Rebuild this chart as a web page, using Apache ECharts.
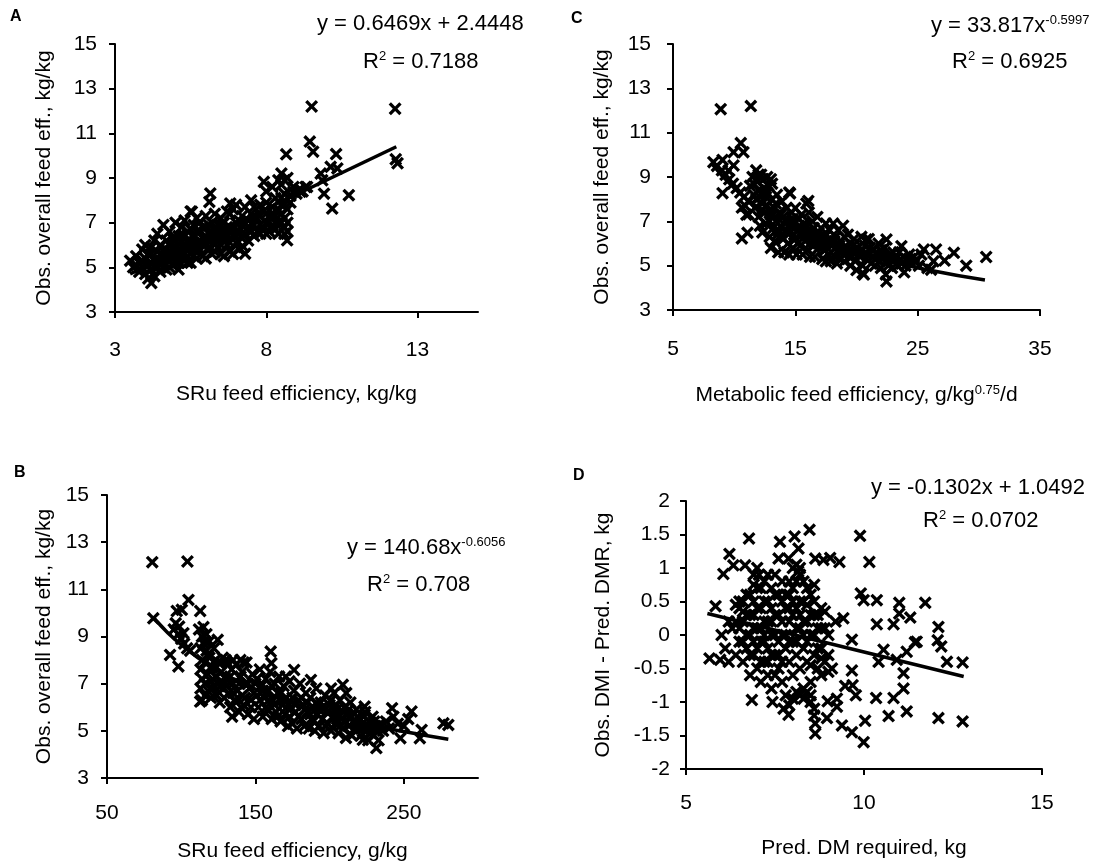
<!DOCTYPE html>
<html>
<head>
<meta charset="utf-8">
<script src="https://cdn.jsdelivr.net/npm/echarts@6/dist/echarts.min.js"></script>
<style>html,body{margin:0;padding:0;background:#fff}#c{width:1100px;height:867px}</style>
</head>
<body>
<div id="c"></div>
<script>
// ---------- DATA ----------
// Panel A: SRu feed efficiency (kg/kg) vs observed overall feed efficiency (kg/kg)
const dataA = [
 [3.5,5.3],[3.6,5.0],[3.7,5.5],[3.8,4.8],[3.8,5.2],[3.9,5.8],[3.9,5.0],[4.0,6.0],[4.0,5.4],[4.0,4.7],
 [4.1,5.1],[4.1,5.6],[4.2,4.3],[4.2,4.9],[4.2,5.9],[4.3,5.3],[4.3,6.2],[4.3,4.6],[4.4,5.0],[4.4,5.7],[4.4,6.5],
 [4.5,5.3],[4.5,4.8],[4.5,6.0],[4.6,6.9],[4.6,5.5],[4.6,5.0],[4.7,6.2],[4.7,5.8],[4.7,4.9],[4.8,5.3],[4.8,6.6],[4.8,6.0],
 [4.9,5.1],[4.9,5.6],[4.9,6.3],[5.0,7.0],[5.0,5.9],[5.0,5.2],[5.1,6.4],[5.1,5.5],[5.1,4.9],[5.2,6.1],[5.2,5.7],[5.2,6.8],
 [5.3,5.3],[5.3,6.4],[5.3,7.1],[5.4,5.9],[5.4,5.5],[5.4,6.6],[5.5,6.2],[5.5,5.2],[5.5,7.5],[5.6,5.8],[5.6,6.9],[5.6,6.4],
 [5.7,5.4],[5.7,6.1],[5.7,7.2],[5.8,6.6],[5.8,5.8],[5.8,7.0],[5.9,6.3],[5.9,5.5],[6.0,6.8],[6.0,6.0],[6.0,7.3],[6.0,5.4],
 [6.1,6.5],[6.1,5.9],[6.2,7.0],[6.2,6.2],[6.2,5.6],[6.3,6.7],[6.3,7.4],[6.3,5.7],[6.4,6.4],[6.4,6.9],[6.4,5.9],
 [6.5,6.6],[6.5,7.2],[6.5,5.6],[6.6,6.2],[6.6,5.5],[6.6,7.0],[6.7,6.5],[6.7,7.5],[6.8,5.7],[6.8,6.8],[6.8,6.1],[6.8,7.4],
 [6.9,7.6],[6.9,6.4],[6.9,5.6],[7.0,7.0],[7.0,6.1],[7.0,7.8],[7.1,6.6],[7.1,5.8],[7.2,7.3],[7.2,6.3],[7.2,6.9],
 [7.3,6.5],[7.3,7.7],[7.4,7.1],[7.4,6.2],[7.5,6.6],[7.5,7.4],[7.5,8.0],[7.6,6.9],[7.6,6.4],[7.6,7.7],
 [7.7,7.2],[7.7,6.6],[7.8,7.8],[7.8,6.9],[7.8,6.5],[7.9,7.5],[7.9,6.7],[8.0,7.0],[8.0,6.5],[8.0,7.9],[8.0,8.4],
 [8.1,6.6],[8.1,7.3],[8.2,7.7],[8.2,8.6],[8.2,6.9],[8.3,8.1],[8.3,7.3],[8.3,6.7],[8.4,8.9],[8.4,7.6],[8.4,7.0],[8.4,6.5],
 [8.5,9.2],[8.5,8.7],[8.5,7.4],[8.5,7.0],[8.6,8.3],[8.6,7.8],[8.6,7.2],[8.6,6.8],[8.6,6.5],[8.7,9.0],[8.7,7.6],[8.7,7.0],[8.7,6.6],
 [8.8,8.2],[8.9,8.4],[9.0,8.3],[9.1,8.5],[9.2,8.4],[9.3,8.6],[8.8,7.9],
 [9.5,12.2],[12.26,12.1],[9.44,10.63],[9.55,10.18],[8.66,10.06],[10.31,10.07],[12.28,9.84],[12.34,9.66],
 [10.13,9.5],[10.35,9.43],[9.8,9.2],[9.85,8.9],[9.91,8.3],[10.73,8.23],[10.18,7.63],[9.13,8.38],[9.35,8.6],
 [8.9,8.6],[7.92,8.83],[6.15,8.31],[6.12,7.93],[5.54,7.49],[6.81,7.86],[7.25,5.91],[7.3,5.61],[8.69,6.21],
 [3.7,5.1],[3.9,5.3],[4.0,5.1],[4.1,4.5],[4.2,5.2],[4.2,5.6],[4.3,5.0],[4.4,5.3],[4.5,5.6],[4.5,5.1],[4.6,5.2],[4.6,5.8],
 [4.7,5.4],[4.8,5.7],[4.8,5.0],[4.9,5.9],[5.0,5.5],[5.0,6.2],[5.1,5.2],[5.1,5.8],[5.2,5.4],[5.2,6.4],[5.3,5.6],[5.3,6.0],
 [5.4,6.2],[5.4,5.2],[5.5,5.6],[5.5,6.7],[5.6,6.1],[5.6,5.5],[5.7,5.8],[5.7,6.6],[5.8,6.2],[5.9,6.0],[5.9,6.8],[6.0,6.4],
 [6.1,6.2],[6.1,6.9],[6.2,6.6],[6.3,6.0],[6.4,6.2],[6.5,6.0],[6.5,6.9],[6.6,6.5],[6.7,6.0],[6.7,6.8],[6.9,6.7],[7.0,6.4],
 [7.1,7.1],[7.3,7.0],[7.4,6.8],[7.6,7.2],[7.8,7.3],[8.0,7.4],[8.2,7.3],[8.3,7.0],[8.5,7.8],[8.5,8.1],[8.6,8.9]
];
// Panel B: SRu feed efficiency (g/kg) vs observed overall feed efficiency (kg/kg)
const dataB = [
 [80.5,12.15],[104.2,12.18],[81.2,9.77],[97.0,10.08],[104.9,10.55],[100.4,10.13],[112.8,10.08],[92.5,8.22],[98.1,7.73],
 [96.3,9.56],[98.6,9.42],[101.5,9.14],[124.6,8.86],[160.3,8.36],[160.8,7.87],[176.1,7.58],[170.5,7.3],[187.4,7.16],
 [139.9,8.0],[134.3,5.6],[112.8,6.24],[280,5.25],[276.7,5.32],[262,5.04],[255.2,5.82],[242.1,5.96],[247.7,4.69],
 [260.8,4.69],[231.5,4.27],[222.4,4.62],[223.6,6.03],[208.9,6.95],[211.2,6.6],[201,6.8],
 [95,9.3],[98,9.1],[100,8.9],[102,8.7],[104,8.5],[106,8.4],
 [112,9.3],[113,8.5],[113,7.6],[113,6.8],[114,9.0],[114,8.0],[114,7.2],[114,6.3],[115,9.4],[115,8.7],[116,7.9],[116,7.0],
 [116,6.5],[117,8.4],[117,9.1],[118,7.4],[118,6.7],[119,8.8],[119,8.1],[120,7.1],[120,6.4],[121,7.7],[122,8.5],[122,6.9],
 [123,7.3],[124,6.5],[125,7.9],[125,7.0],[126,6.2],[127,7.5],[128,8.1],[128,6.8],[129,6.4],[130,7.2],[131,7.9],[132,6.6],
 [133,6.0],[134,7.6],[135,7.0],[136,6.3],[137,7.8],[138,6.7],[139,5.8],[140,7.3],[141,6.5],[142,6.1],[143,7.0],[144,7.9],
 [145,5.7],[146,6.8],[147,6.3],[148,7.4],[149,5.5],[150,7.0],[151,6.5],[152,6.0],[153,7.6],[154,6.9],[155,5.6],[156,6.4],
 [157,7.2],[158,5.9],[159,6.7],[160,7.5],[161,5.5],[162,6.3],[163,7.0],[164,5.8],[165,6.6],[166,7.3],[167,5.4],[168,6.1],
 [169,6.9],[170,5.7],[171,6.4],[172,5.2],[173,7.1],[174,6.0],[175,5.3],[176,6.7],[177,5.8],[178,5.1],[179,6.3],[180,7.0],
 [181,5.5],[182,6.1],[183,5.2],[184,6.6],[185,5.8],[186,5.1],[187,6.4],[188,5.5],[189,6.0],[190,5.0],[191,6.8],[192,5.7],
 [193,5.2],[194,6.2],[195,5.5],[196,4.9],[197,6.5],[198,5.8],[199,5.3],[200,6.1],[201,5.0],[202,5.6],[203,6.6],[204,5.3],
 [205,5.9],[206,4.9],[207,6.3],[208,5.5],[209,5.1],[210,6.0],[211,4.7],[212,5.7],[213,5.2],[214,6.2],[215,4.8],[216,5.4],
 [218,5.9],[219,5.1],[220,5.5],[221,4.8],[222,5.3],[224,5.8],[225,5.0],[226,4.6],[227,5.4],[228,5.1],[229,5.6],[230,4.8],
 [231,5.2],[233,4.6],[234,5.3],[236,5.0],[238,5.4],[240,5.1],[243,5.6],[246,5.3],[250,5.2],[253,5.5],
 [130,8.0],[135,8.0],[142,7.9],
 [116,8.8],[118,8.2],[120,7.7],[121,6.8],[123,8.0],[124,7.3],[126,6.9],[127,7.9],[129,7.0],[131,6.9],[133,7.3],[135,6.6],
 [137,6.2],[139,7.0],[141,7.5],[143,6.4],[145,7.0],[147,6.0],[149,6.6],[151,7.2],[153,6.3],[155,6.7],[157,6.0],[159,6.3],
 [161,6.9],[163,6.1],[165,5.6],[167,6.6],[169,6.3],[171,6.0],[173,5.6],[175,6.4],[177,6.1],[179,5.6],[181,6.4],[183,5.9],
 [185,6.2],[187,5.7],[189,5.4],[191,6.2],[193,5.9],[195,6.0],[197,5.2],[199,5.8],[201,6.3],[203,5.9],[205,5.5],[207,5.2],
 [209,5.8],[211,5.4],[213,5.9],[215,5.6],[217,5.1],[219,5.6],[221,5.1],[223,5.6],[226,5.2],[228,4.9],[230,5.4],[232,5.0]
];
// Panel C: metabolic feed efficiency vs observed overall feed efficiency
const dataC = [
 [8.9,12.06],[11.36,12.2],[10.54,10.53],[10.76,10.12],[9.95,10.12],[9.05,9.77],[8.3,9.67],[9.95,9.52],[9.54,9.29],
 [9.05,8.27],[10.63,6.23],[11.09,6.48],[10.63,7.62],[11.17,7.32],[30.6,5.39],[28.97,5.0],[27.96,5.58],[27.2,5.23],
 [26.5,5.73],[25.5,5.73],[26.1,4.82],[22.45,4.29],[22.45,6.18],[23.67,5.88],[14.57,8.26],[16.06,7.92],[20.8,6.18],[20.5,4.67],
 [8.6,9.5],[9.0,9.3],[9.3,9.1],[9.6,8.9],[9.9,8.7],[10.2,8.5],[10.5,8.3],[10.8,8.1],[10.9,7.7],[11.0,7.3],[11.2,7.9],[11.3,8.6],
 [11.5,9.0],[11.6,8.2],[11.7,7.6],[11.8,9.3],[11.9,8.8],[12.0,7.2],[12.0,8.4],[12.1,6.8],[12.2,9.1],[12.3,7.8],[12.3,6.5],
 [12.4,8.9],[12.5,7.4],[12.5,8.3],[12.6,6.9],[12.7,9.0],[12.7,7.7],[12.8,8.6],[12.9,6.3],[13.0,7.3],[13.0,5.8],[13.1,8.0],
 [13.2,6.7],[13.3,7.6],[13.3,6.1],[13.4,7.0],[13.5,8.2],[13.5,6.4],[13.6,5.6],[13.7,7.4],[13.8,6.8],[13.9,7.9],[14.0,6.2],
 [14.0,7.2],[14.1,5.6],[14.2,6.6],[14.3,7.6],[14.4,6.0],[14.4,7.0],[14.5,8.3],[14.5,5.5],[14.6,6.5],[14.7,7.4],[14.8,5.8],
 [14.9,6.9],[15.0,6.2],[15.0,7.6],[15.1,5.5],[15.2,6.6],[15.3,7.1],[15.4,5.9],[15.5,6.4],[15.5,7.3],[15.6,5.5],[15.7,6.9],
 [15.8,6.1],[15.9,7.8],[16.0,5.7],[16.0,6.6],[16.1,7.4],[16.2,5.4],[16.3,6.3],[16.4,7.0],[16.5,5.9],[16.5,6.7],[16.6,5.4],
 [16.7,6.4],[16.8,7.2],[16.9,5.8],[17.0,6.1],[17.1,6.7],[17.2,5.3],[17.3,6.4],[17.4,5.7],[17.5,6.9],[17.5,5.2],[17.6,6.1],
 [17.7,5.5],[17.8,6.6],[17.9,5.2],[18.0,5.9],[18.1,6.9],[18.2,5.4],[18.3,6.3],[18.4,5.1],[18.5,5.7],[18.5,6.6],[18.6,5.3],
 [18.7,6.1],[18.8,5.6],[18.9,6.8],[19.0,5.2],[19.1,5.9],[19.3,6.4],[19.4,5.4],[19.5,5.0],[19.5,6.0],[19.7,5.6],[19.8,6.2],
 [19.9,5.2],[20.0,4.8],[20.1,5.8],[20.3,5.4],[20.4,6.3],[20.5,5.0],[20.6,4.6],[20.7,5.9],[20.9,5.5],[21.0,6.2],[21.2,5.1],
 [21.4,5.7],[21.6,5.3],[21.8,6.0],[22.0,4.9],[22.1,5.5],[22.3,5.8],[22.4,4.6],[22.5,5.2],[22.7,5.5],[22.9,4.9],[23.2,5.3],
 [23.5,5.6],[23.7,5.1],[23.9,4.7],[24.1,5.3],[24.3,5.5],[24.5,5.1],[24.7,5.4],[24.9,5.2],[25.1,5.0],[25.3,5.5],[25.8,4.9],[26.3,5.2],
 [11.8,8.0],[12.2,7.5],[12.6,8.1],[12.9,7.0],[13.2,7.3],[13.6,6.6],[13.9,6.3],[14.2,7.0],[14.6,6.9],[14.9,6.4],[15.2,6.0],
 [15.6,6.6],[15.9,6.4],[16.2,6.0],[16.6,6.1],[16.9,6.5],[17.2,5.9],[17.6,5.8],[17.9,6.2],[18.3,5.8],[18.7,5.7],[19.0,6.3],
 [19.3,5.6],[19.7,5.9],[20.2,5.5],[20.8,5.3],[21.1,5.8],[21.5,5.0],[22.0,5.7],[22.6,5.0],[23.0,5.6],[23.4,5.0],[24.0,5.0],
 [24.4,5.3],[12.4,8.5],[13.1,8.7],[11.6,8.7],[12.0,9.1],[13.0,8.9],
 [12.1,8.1],[12.7,8.3],[13.4,7.8],[13.8,7.3],[14.3,6.5],[14.8,7.1],[15.3,6.8],[15.8,6.8],[16.3,6.5],[16.8,6.3],[17.4,6.3],
 [17.8,6.0],[18.2,6.1],[18.6,5.9],[19.2,5.8],[19.6,5.4],[20.0,5.6],[20.5,5.7],[21.3,5.4],[21.9,5.2],[22.8,5.3],[23.6,5.3],[24.2,5.2]
];
// Panel D: predicted DM required vs (observed DMI - predicted DMR)
const dataD = [
 [5.66,-0.35],[5.96,-0.37],[5.83,0.43],[6.05,0.91],[6.22,1.21],[6.33,1.04],[6.66,1.04],[6.77,1.44],[7.64,1.39],[7.6,1.14],
 [8.05,1.47],[8.16,1.29],[7.88,1.14],[8.47,1.57],[8.63,1.14],[8.86,1.12],[9.05,1.15],[9.31,1.09],[9.89,1.48],[10.15,1.09],
 [9.91,0.62],[9.99,0.52],[10.36,0.52],[10.36,0.16],[10.83,0.16],[10.99,0.48],[10.99,0.32],[11.3,0.26],[11.72,0.48],
 [12.09,0.12],[12.07,-0.08],[12.17,-0.17],[12.33,-0.4],[12.77,-0.41],[12.77,-1.29],[12.09,-1.24],[11.2,-1.14],[11.11,-0.8],
 [11.11,-0.57],[10.83,-0.94],[10.69,-1.21],[10.34,-0.94],[10.03,-1.28],[9.99,-1.6],[9.66,-1.45],[9.38,-1.35],[9.77,-0.9],
 [9.68,-0.75],[9.66,-0.53],[9.47,-0.76],[9.24,-0.95],[9.24,-1.07],[8.96,-1.24],[8.98,-0.99],[8.63,-1.47],[8.63,-1.32],
 [6.85,-0.97],[7.43,-1.0],[7.74,-1.1],[7.88,-1.19],[9.66,-0.07],[9.42,0.25],[10.41,-0.4],[10.55,-0.22],[10.92,-0.37],
 [11.2,-0.25],[11.43,-0.11],[11.48,-0.1],
 [6.0,0.0],[6.1,-0.2],[6.2,0.2],[6.2,-0.4],[6.3,0.1],[6.4,-0.3],[6.5,0.4],[6.5,-0.1],[6.6,0.5],[6.6,0.2],[6.6,-0.4],
 [6.7,-0.2],[6.7,0.3],[6.8,0.0],[6.8,0.6],[6.8,-0.6],[6.9,0.9],[6.9,0.3],[6.9,-0.3],[7.0,0.7],[7.0,0.1],[7.0,-0.5],[7.0,1.0],
 [7.1,0.4],[7.1,-0.1],[7.1,-0.7],[7.2,0.8],[7.2,0.2],[7.2,-0.4],[7.3,0.5],[7.3,-0.2],[7.3,-0.6],[7.4,0.0],[7.4,0.7],[7.4,-0.8],
 [7.5,0.3],[7.5,-0.3],[7.5,0.9],[7.6,0.6],[7.6,-0.1],[7.6,-0.5],[7.7,0.2],[7.7,0.8],[7.7,-0.7],[7.8,0.4],[7.8,-0.2],[7.8,0.0],
 [7.9,0.6],[7.9,-0.4],[7.9,0.2],[8.0,1.0],[8.0,-0.1],[8.0,-0.6],[8.1,0.4],[8.1,0.8],[8.1,-0.3],[8.2,0.1],[8.2,0.9],[8.2,-0.5],
 [8.3,0.5],[8.3,-0.2],[8.3,-0.8],[8.4,0.7],[8.4,0.2],[8.4,-0.4],[8.5,0.0],[8.5,0.6],[8.5,-0.7],[8.6,-0.3],[8.6,0.3],[8.6,0.75],
 [8.7,-0.5],[8.7,0.1],[8.8,0.4],[8.8,-0.2],[8.8,-0.6],[8.9,0.35],[8.9,-0.4],[9.0,0.0],[9.0,-0.3],[9.1,-0.5],[9.2,0.2],
 [7.8,-0.9],[7.9,-1.05],[8.0,-0.95],[8.1,-0.85],[8.2,-0.9],[8.3,-0.95],[8.4,-0.85],[8.5,-1.0],[8.6,-1.1],[8.6,-1.2],[8.5,-0.9],
 [8.1,1.05],[8.2,1.0],[8.15,0.95],[6.5,0.5],[6.4,0.45],[7.05,0.9],[6.9,0.75],
 [6.5,0.1],[6.7,0.0],[6.8,0.3],[6.9,-0.1],[7.0,0.4],[7.1,0.1],[7.2,-0.1],[7.3,0.2],[7.4,0.4],[7.5,0.0],[7.6,0.3],[7.7,-0.4],
 [7.8,0.6],[7.9,-0.1],[8.0,0.3],[8.1,0.1],[8.2,0.5],[8.3,0.2],[8.4,-0.1],[8.5,0.3],[8.6,0.0],[8.7,-0.2],[8.8,0.1],[7.2,0.5],
 [7.4,-0.3],[7.6,-0.3],[8.0,0.7],[8.3,0.8],[6.6,-0.1],[6.9,0.5],[7.1,0.7],[7.3,0.9],
 [6.4,0.2],[6.6,0.35],[6.7,0.6],[6.8,-0.3],[7.0,-0.2],[7.1,-0.4],[7.2,0.0],[7.3,-0.4],[7.5,0.6],[7.5,-0.6],[7.7,0.5],
 [7.7,0.0],[7.9,0.4],[8.0,0.5],[8.1,-0.1],[8.2,0.3],[8.3,0.0],[8.4,0.45],[8.5,-0.45],[8.6,0.5],[8.7,0.3],[8.9,0.1],
 [9.0,-0.55],[8.8,-0.35],[7.4,0.2],[7.9,0.8],[6.9,0.1]
];
// Trend lines as drawn in the picture
const trendA = [[3.5,4.71],[12.3,10.40]];
const trendB = [[82,9.76],[100,8.65],[125,7.56],[150,6.77],[175,6.17],[200,5.69],[225,5.29],[250,4.97],[280,4.64]];
const trendC = [[8.1,9.65],[10,8.50],[12,7.62],[15,6.67],[18,5.98],[22,5.30],[26,4.79],[30.5,4.35]];
const trendD = [[5.6,0.32],[12.8,-0.62]];
// Tick labels
const ticksEffY = [3,5,7,9,11,13,15];
const ticksAx = [3,8,13];
const ticksBx = [50,150,250];
const ticksCx = [5,15,25,35];
const ticksDx = [5,10,15];
const ticksDy = [-2,-1.5,-1,-0.5,0,0.5,1,1.5,2];
// Texts
const equations = {
  A: ['y = 0.6469x + 2.4448', '0.7188'],
  B: ['y = 140.68x', '-0.6056', '0.708'],
  C: ['y = 33.817x', '-0.5997', '0.6925'],
  D: ['y = -0.1302x + 1.0492', '0.0702']
};

// ---------- CHART ----------
const FONT = '"Liberation Sans", Arial, Helvetica, sans-serif';
const FS = 21;
const X_SYMBOL = 'path://M0,1.8L1.8,0L5,3.2L8.2,0L10,1.8L6.8,5L10,8.2L8.2,10L5,6.8L1.8,10L0,8.2L3.2,5Z';
const txt = { color: '#000', fontFamily: FONT, fontSize: FS, fontWeight: 'normal' };
const sup = { color: '#000', fontFamily: FONT, fontSize: 13, fontWeight: 'normal', verticalAlign: 'top', lineHeight: 24 };
const base = { color: '#000', fontFamily: FONT, fontSize: 22, fontWeight: 'normal', lineHeight: 24 };

function xAx(grid, min, max, ticks, name, gap, margin, rich) {
  return {
    type: 'value', gridIndex: grid, min: min, max: max,
    splitLine: { show: false },
    axisLine: { show: true, onZero: false, lineStyle: { color: '#000', width: 2 } },
    axisTick: { show: true, length: 6, lineStyle: { color: '#000', width: 2 }, customValues: ticks },
    axisLabel: { customValues: ticks, margin: margin, ...txt },
    name: name, nameLocation: 'middle', nameGap: gap,
    nameTextStyle: rich ? { ...txt, rich: rich } : txt
  };
}
function yAx(grid, min, max, ticks, name, gap, margin) {
  return {
    type: 'value', gridIndex: grid, min: min, max: max,
    splitLine: { show: false },
    axisLine: { show: true, onZero: false, lineStyle: { color: '#000', width: 2 } },
    axisTick: { show: true, length: 6, lineStyle: { color: '#000', width: 2 }, customValues: ticks },
    axisLabel: { customValues: ticks, margin: margin, ...txt },
    name: name, nameLocation: 'middle', nameGap: gap, nameRotate: 90,
    nameTextStyle: txt
  };
}
function scat(i, data) {
  return { type: 'scatter', xAxisIndex: i, yAxisIndex: i, data: data, symbol: X_SYMBOL, symbolSize: 13,
    itemStyle: { color: '#000', opacity: 1 }, silent: true, z: 2 };
}
function trend(i, data, smooth) {
  return { type: 'line', xAxisIndex: i, yAxisIndex: i, data: data, symbol: 'none', smooth: smooth,
    lineStyle: { color: '#000', width: 3.5 }, silent: true, z: 3 };
}
function t(text, left, top, extra) {
  const st = { ...base, ...(extra || {}) };
  return { text: text, left: left, top: top, textStyle: { ...st, rich: { a: st, s: sup } } };
}

const option = {
  backgroundColor: '#fff',
  animation: false,
  title: [
    t('A', 5, 0, { fontWeight: 'bold', fontSize: 16 }),
    t('C', 566, 2, { fontWeight: 'bold', fontSize: 16 }),
    t('B', 9, 456, { fontWeight: 'bold', fontSize: 16 }),
    t('D', 568, 459, { fontWeight: 'bold', fontSize: 16 }),
    t(equations.A[0], 312, 7),
    t('{a|R}{s|2}{a| = ' + equations.A[1] + '}', 358, 45),
    t('{a|' + equations.C[0] + '}{s|' + equations.C[1] + '}', 926, 9),
    t('{a|R}{s|2}{a| = ' + equations.C[2] + '}', 947, 45),
    t('{a|' + equations.B[0] + '}{s|' + equations.B[1] + '}', 342, 531),
    t('{a|R}{s|2}{a| = ' + equations.B[2] + '}', 362, 568),
    t(equations.D[0], 866, 471),
    t('{a|R}{s|2}{a| = ' + equations.D[1] + '}', 918, 504)
  ],
  grid: [
    { left: 115, top: 44, width: 363, height: 268 },
    { left: 107, top: 495, width: 371, height: 283 },
    { left: 673, top: 44, width: 367, height: 266 },
    { left: 686, top: 501, width: 356, height: 268 }
  ],
  xAxis: [
    xAx(0, 3, 15, ticksAx, 'SRu feed efficiency, kg/kg', 72, 28),
    xAx(1, 50, 300, ticksBx, 'SRu feed efficiency, g/kg', 63, 25),
    xAx(2, 5, 35, ticksCx, '{a|Metabolic feed efficiency, g/kg}{s|0.75}{a|/d}', 74, 29, { a: txt, s: { ...sup, lineHeight: 22 } }),
    xAx(3, 5, 15, ticksDx, 'Pred. DM required, kg', 69, 24)
  ],
  yAxis: [
    yAx(0, 3, 15, ticksEffY, 'Obs. overall feed eff., kg/kg', 60, 18),
    yAx(1, 3, 15, ticksEffY, 'Obs. overall feed eff., kg/kg', 52, 18),
    yAx(2, 3, 15, ticksEffY, 'Obs. overall feed eff., kg/kg', 60, 22),
    yAx(3, -2, 2, ticksDy, 'Obs. DMI - Pred. DMR, kg', 72, 16)
  ],
  series: [
    scat(0, dataA), trend(0, trendA, false),
    scat(1, dataB), trend(1, trendB, true),
    scat(2, dataC), trend(2, trendC, true),
    scat(3, dataD), trend(3, trendD, false)
  ]
};
const chart = echarts.init(document.getElementById('c'), null, { renderer: 'canvas' });
chart.setOption(option);
</script>
</body>
</html>
